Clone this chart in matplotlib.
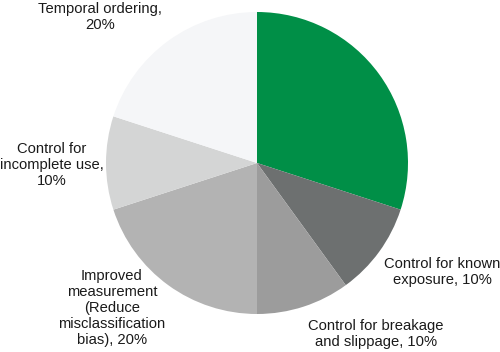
import matplotlib
matplotlib.use("Agg")
import matplotlib.pyplot as plt

# slice data, clockwise from 12 o'clock
labels = [
    "",
    "Control for known\nexposure, 10%",
    "Control for breakage\nand slippage, 10%",
    "Improved\nmeasurement\n(Reduce\nmisclassification\nbias), 20%",
    "Control for\nincomplete use,\n10%",
    "Temporal ordering,\n20%",
]
shares = [30, 10, 10, 20, 10, 20]
colors = ["#008f47", "#6d7070", "#9c9c9c", "#b3b3b3", "#d4d5d5", "#f5f6f8"]

# label centres in pixel coords (y measured from the bottom)
label_xy = [None, (442, 80), (376, 18), (112, 44), (52, 187), (100, 335)]

fig = plt.figure(figsize=(5, 3.52), dpi=100)
ax = fig.add_axes([0, 0, 1, 1])

ax.pie(shares, colors=colors, startangle=90, counterclock=False,
       center=(257, 189), radius=151, frame=True,
       wedgeprops=dict(linewidth=0))
ax.set_xlim(0, 500)
ax.set_ylim(0, 352)
ax.set_aspect("equal")
ax.axis("off")

for text, pos in zip(labels, label_xy):
    if pos is None:
        continue
    ax.text(pos[0], pos[1], text, ha="center", va="center",
            fontsize=10.6, family="Liberation Sans", color="#1a1a1a",
            linespacing=1.2)

fig.savefig("out.png", dpi=100)
